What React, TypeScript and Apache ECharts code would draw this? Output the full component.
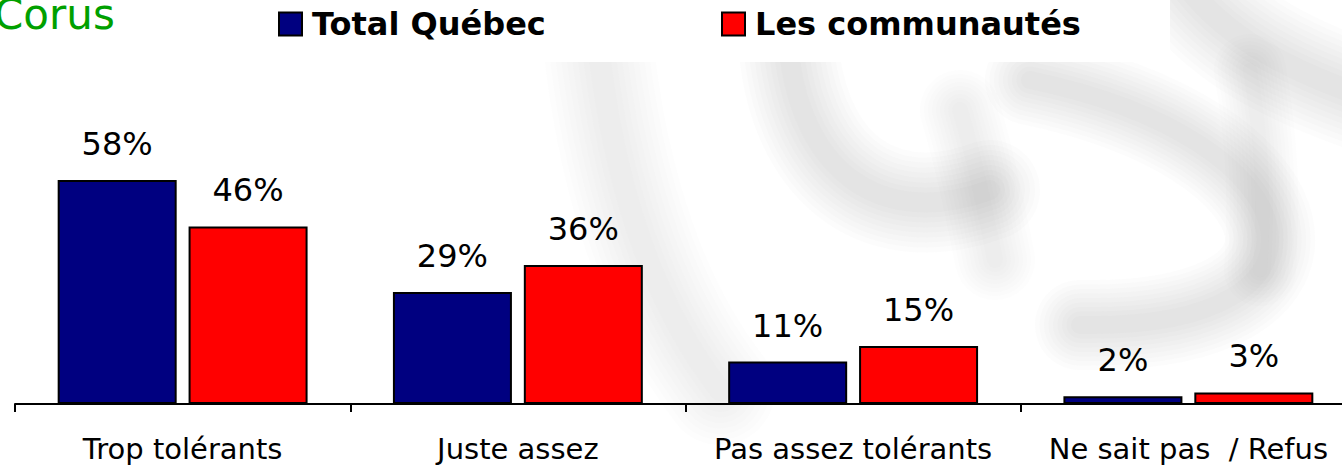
import React, { useEffect, useRef } from "react";
import * as echarts from "echarts";

const categories = ["Trop tolérants", "Juste assez", "Pas assez tolérants", "Ne sait pas  / Refus"];
const seriesNames = ["Total Québec", "Les communautés"];
const totalQuebec = [58, 29, 11, 2];
const communautes = [46, 36, 15, 3];
const seriesColors = ["#000080", "#FF0000"];
const brandText = "Corus";

const FONT = "'DejaVu Sans', Verdana, sans-serif";

export default function App() {
  const ref = useRef<HTMLDivElement>(null);
  useEffect(() => {
    if (!ref.current) return;
    const chart = echarts.init(ref.current, undefined, { renderer: "svg" });
    // soft watermark stroke: several stacked translucent strokes fake a blur
    const layers = [2.0, 1.8, 1.6, 1.4, 1.2, 1.0, 0.8, 0.6, 0.4];
    const soft = (
      x1: number, y1: number, cpx1: number, cpy1: number,
      cpx2: number, cpy2: number, x2: number, y2: number,
      w: number, a: number
    ) =>
      layers.map((k) => ({
        type: "bezierCurve",
        z: -10,
        silent: true,
        shape: { x1, y1, cpx1, cpy1, cpx2, cpy2, x2, y2 },
        style: { stroke: `rgba(160,160,160,${a})`, fill: "none", lineWidth: w * k, lineCap: "round" },
      }));
    const option: any = {
      animation: false,
      backgroundColor: "#ffffff",
      graphic: [
        ...soft(600, 60, 615, 180, 650, 300, 720, 390, 55, 0.02),
        ...soft(790, 60, 805, 170, 880, 230, 990, 190, 50, 0.026),
        ...soft(960, 110, 975, 160, 985, 210, 995, 260, 40, 0.018),
        ...soft(1030, 80, 1320, 140, 1360, 330, 1080, 325, 45, 0.03),
        ...soft(1190, -10, 1230, 40, 1290, 70, 1360, 95, 55, 0.036),
        ...soft(1250, 70, 1262, 140, 1265, 200, 1260, 270, 36, 0.022),
        {
          type: "rect",
          z: -5,
          silent: true,
          shape: { x: 0, y: 0, width: 1170, height: 62 },
          style: { fill: "#ffffff" },
        },
        {
          type: "text",
          z: 10,
          x: -6,
          y: 14,
          style: {
            text: brandText,
            font: `42px ${FONT}`,
            fill: "#00A000",
            verticalAlign: "middle",
            align: "left",
          },
        },
      ],
      legend: [
        {
          data: [seriesNames[0]],
          left: 273,
          top: 3,
          itemWidth: 23,
          itemHeight: 23,
          icon: "rect",
          textStyle: { fontSize: 32, fontWeight: "bold", color: "#000", fontFamily: FONT, padding: [0, 0, 0, 5] },
        },
        {
          data: [seriesNames[1]],
          left: 716,
          top: 3,
          itemWidth: 23,
          itemHeight: 23,
          icon: "rect",
          textStyle: { fontSize: 32, fontWeight: "bold", color: "#000", fontFamily: FONT, padding: [0, 0, 0, 5] },
        },
      ],
      grid: { left: 15, top: 404 - 231.6, width: 1341, height: 231.6, containLabel: false },
      xAxis: {
        type: "category",
        data: categories,
        axisLine: { lineStyle: { color: "#000", width: 2 } },
        axisTick: { show: true, length: 8, lineStyle: { color: "#000", width: 2 } },
        axisLabel: { margin: 30, fontSize: 29, color: "#000", fontFamily: FONT, interval: 0 },
      },
      yAxis: { type: "value", min: 0, max: 60, show: false },
      series: [
        {
          name: seriesNames[0],
          type: "bar",
          data: totalQuebec,
          barWidth: 119,
          barGap: "10%",
          itemStyle: { color: seriesColors[0], borderColor: "#000", borderWidth: 2 },
          label: { show: true, position: "top", distance: 20, formatter: "{c}%", fontSize: 32, color: "#000", fontFamily: FONT },
        },
        {
          name: seriesNames[1],
          type: "bar",
          data: communautes,
          barWidth: 119,
          barGap: "10%",
          itemStyle: { color: seriesColors[1], borderColor: "#000", borderWidth: 2 },
          label: { show: true, position: "top", distance: 20, formatter: "{c}%", fontSize: 32, color: "#000", fontFamily: FONT },
        },
      ],
    };
    chart.setOption(option);
    return () => chart.dispose();
  }, []);
  return (
    <div style={{ position: "absolute", left: 0, top: 0, width: 1342, height: 467, overflow: "hidden" }}>
      <div ref={ref} style={{ position: "absolute", left: 0, top: 0, width: 1380, height: 467 }} />
    </div>
  );
}
